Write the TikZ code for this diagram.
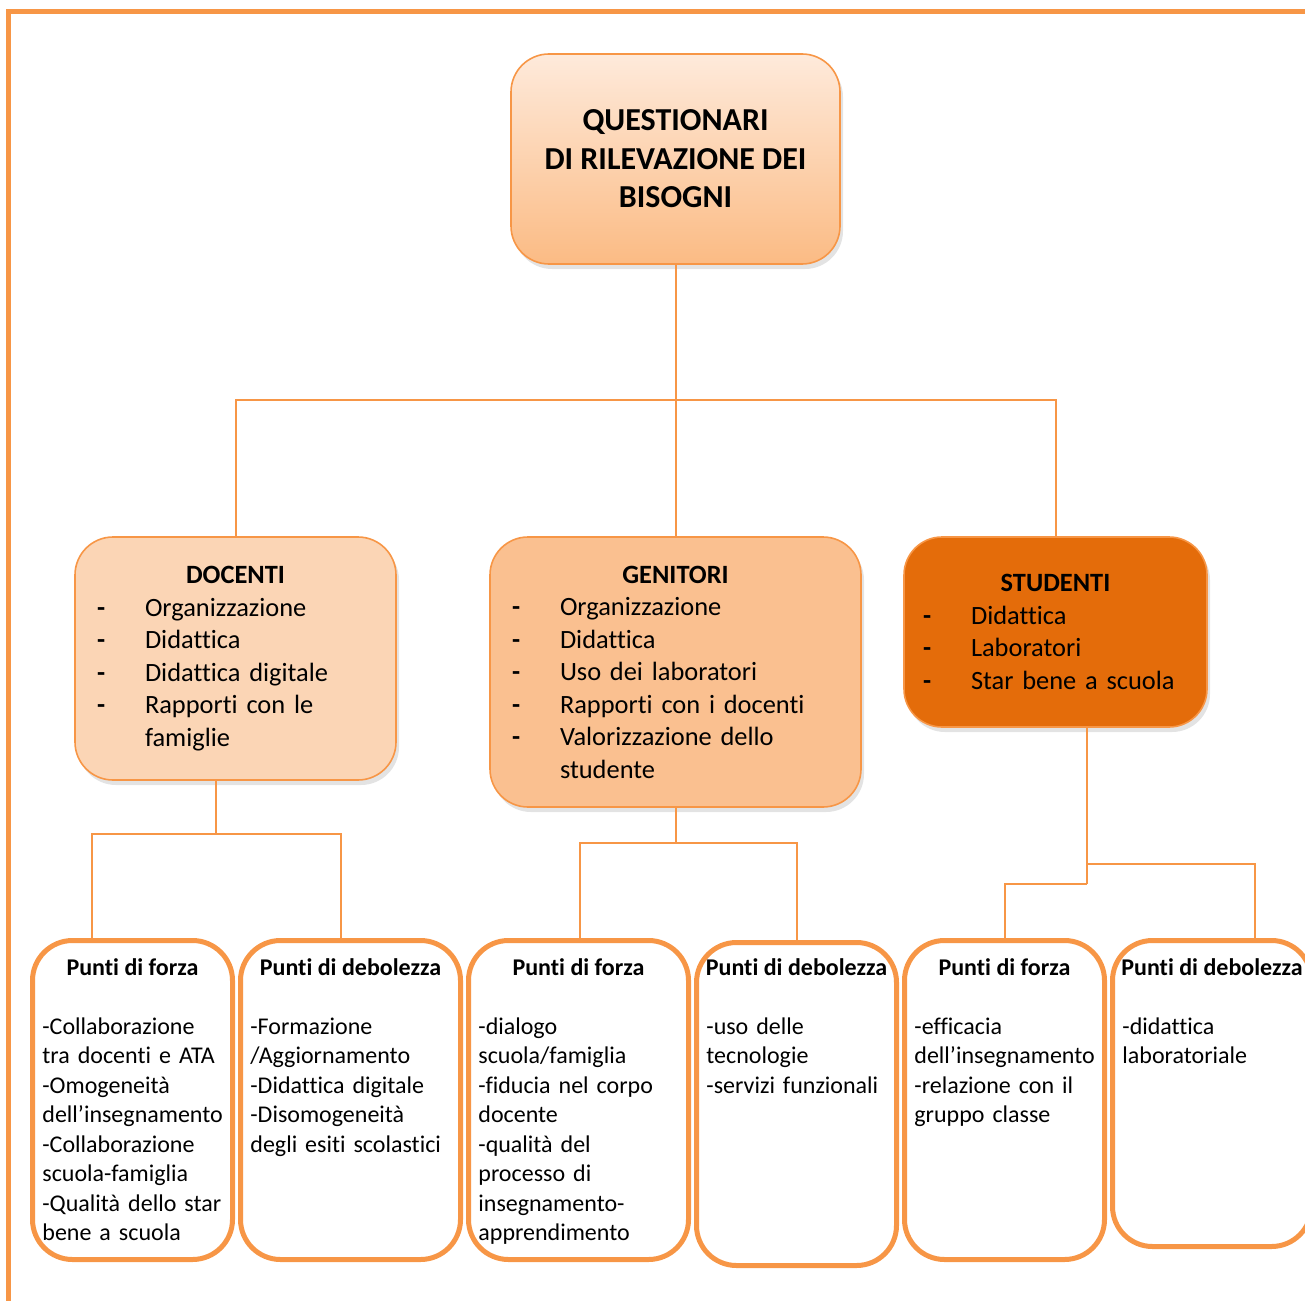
\documentclass[tikz,border=0pt]{standalone}
\usepackage{fontspec}
\setmainfont{Carlito}[Ligatures=NoCommon]
\usetikzlibrary{positioning,shadows}
\definecolor{arancio}{HTML}{F79646}
\definecolor{pescachiaro}{HTML}{FEEADB}
\definecolor{pescascuro}{HTML}{FBBB84}
\definecolor{pesca}{HTML}{FBD5B5}
\definecolor{albicocca}{HTML}{FAC090}
\definecolor{zucca}{HTML}{E46C0A}
\newcommand{\intesta}[1]{{\noindent\centering\textbf{#1}\par}}
\newcommand{\voce}[1]{\par\noindent\raggedright\makebox[24pt][l]{\textbf{-}}#1}
\newcommand{\seguito}[1]{\par\noindent\raggedright\hspace*{24pt}#1}

\begin{document}
\begin{tikzpicture}[x=0.5pt,y=-0.5pt,
  link/.style={draw=arancio,line width=1pt},
  capo/.style={draw=arancio,line width=0.8pt,rounded corners=19pt,
    drop shadow={opacity=0.22,shadow xshift=1.5pt,shadow yshift=-2.5pt}},
  gruppo/.style={capo,inner xsep=11pt,font=\fontsize{13.2}{16.25}\selectfont},
  punto/.style={draw=arancio,line width=2.5pt,rounded corners=20pt,fill=white},
  titoletto/.style={inner sep=0pt,font=\bfseries\fontsize{12}{14.75}\selectfont},
  corpo/.style={inner sep=0pt,text width=98pt,align=left,font=\fontsize{12}{14.75}\selectfont}]
\useasboundingbox (0,0) rectangle (1305,1300);
% draw frame
\draw[arancio,line width=2.5pt] (8.5,1310) -- (8.5,11.5) -- (1310,11.5);
% draw title box
\node[capo,top color=pescachiaro,bottom color=pescascuro,minimum width=164.5pt,minimum height=105pt,
  align=center,font=\bfseries\fontsize{16}{19.25}\selectfont] (quest) at (675.5,159)
  {QUESTIONARI\\DI RILEVAZIONE DEI\\BISOGNI};
% draw groups
\node[gruppo,fill=pesca,text width=138.5pt,minimum width=160.5pt,minimum height=121.5pt] (docenti) at (235.5,658.5)
  {\intesta{DOCENTI}\voce{Organizzazione}\voce{Didattica}\voce{Didattica digitale}\voce{Rapporti con le}\seguito{famiglie}};
\node[gruppo,fill=albicocca,text width=163.5pt,minimum width=185.5pt,minimum height=135pt] (genitori) at (675.5,672)
  {\intesta{GENITORI}\voce{Organizzazione}\voce{Didattica}\voce{Uso dei laboratori}\voce{Rapporti con i docenti}\voce{Valorizzazione dello}\seguito{studente}};
\node[gruppo,fill=zucca,inner xsep=9.5pt,text width=132.5pt,minimum width=151.5pt,minimum height=95pt] (studenti) at (1055.5,632)
  {\intesta{STUDENTI}\voce{Didattica}\voce{Laboratori}\voce{Star bene a scuola}};
% draw strengths and weaknesses
\node[punto,minimum width=100pt,minimum height=159.5pt] (pf1) at (132.5,1100) {};
\node[punto,minimum width=110pt,minimum height=159.5pt] (pd1) at (350.5,1100) {};
\node[punto,minimum width=110pt,minimum height=159.5pt] (pf2) at (578.5,1100) {};
\node[punto,minimum width=100pt,minimum height=161.5pt] (pd2) at (796.5,1104) {};
\node[punto,minimum width=100pt,minimum height=159.5pt] (pf3) at (1004.5,1100) {};
\node[punto,minimum width=99.5pt,minimum height=153pt] (pd3) at (1212,1093.5) {};
\node[titoletto,below=8pt of pf1.north] (hf1) {\strut Punti di forza};
\node[titoletto,below=8pt of pd1.north] (hd1) {\strut Punti di debolezza};
\node[titoletto,below=8pt of pf2.north] (hf2) {\strut Punti di forza};
\node[titoletto,below=7pt of pd2.north] (hd2) {\strut Punti di debolezza};
\node[titoletto,below=8pt of pf3.north] (hf3) {\strut Punti di forza};
\node[titoletto,below=8pt of pd3.north] (hd3) {\strut Punti di debolezza};
\node[corpo,below right=37.5pt and 6pt of pf1.north west] (tf1)
  {\strut-Collaborazione\\tra docenti e ATA\\-Omogeneità\\dell’insegnamento\\-Collaborazione\\scuola-famiglia\\-Qualità dello star\\bene a scuola};
\node[corpo,below right=37.5pt and 6pt of pd1.north west] (td1)
  {\strut-Formazione\\/Aggiornamento\\-Didattica digitale\\-Disomogeneità\\degli esiti scolastici};
\node[corpo,below right=37.5pt and 6pt of pf2.north west] (tf2)
  {\strut-dialogo\\scuola/famiglia\\-fiducia nel corpo\\docente\\-qualità del\\processo di\\insegnamento-\\apprendimento};
\node[corpo,below right=36.5pt and 6pt of pd2.north west] (td2)
  {\strut-uso delle\\tecnologie\\-servizi funzionali};
\node[corpo,below right=37.5pt and 6pt of pf3.north west] (tf3)
  {\strut-efficacia\\dell’insegnamento\\-relazione con il\\gruppo classe};
\node[corpo,below right=37.5pt and 6pt of pd3.north west] (td3)
  {\strut-didattica\\laboratoriale};
% draw connectors
\coordinate (snodo) at (675.5,400);
\draw[link] (quest) -- (genitori);
\draw[link] (snodo) -| (docenti.north);
\draw[link] (snodo) -| (studenti.north);
\coordinate (kd) at (216,834);
\coordinate (dA) at (92,0);
\coordinate (dB) at (341,0);
\draw[link] (docenti.south -| kd) -- (kd);
\draw[link] (kd) -| (dA |- pf1.north);
\draw[link] (kd) -| (dB |- pd1.north);
\coordinate (kg) at (675.5,843);
\coordinate (gA) at (580,0);
\coordinate (gB) at (797,0);
\draw[link] (genitori.south) -- (kg);
\draw[link] (kg) -| (gA |- pf2.north);
\draw[link] (kg) -| (gB |- pd2.north);
\coordinate (ks) at (1087,884);
\coordinate (sA) at (1005,0);
\coordinate (sB) at (1255,864);
\draw[link] (studenti.south -| ks) -- (ks);
\draw[link] (ks) -| (sA |- pf3.north);
\draw[link] (ks |- sB) -| (sB |- pd3.north);
\end{tikzpicture}
\end{document}
